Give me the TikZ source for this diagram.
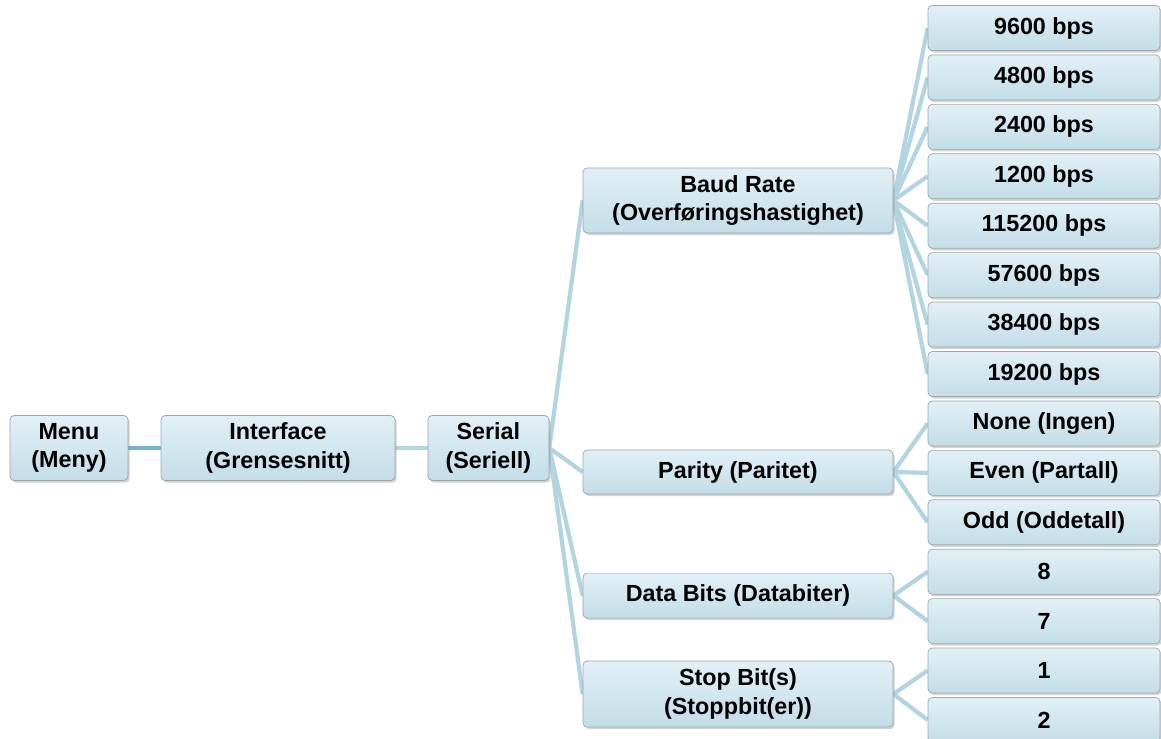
\documentclass[tikz,border=0pt]{standalone}
\usepackage{fontspec}
\setmainfont{Liberation Sans}
\usetikzlibrary{positioning,backgrounds,shadows}
\definecolor{cTop}{HTML}{E2F0F6}
\definecolor{cBot}{HTML}{C3DDE8}
\definecolor{cEdge}{HTML}{9AA7AD}
\definecolor{cLink}{HTML}{B3D5E1}
\definecolor{cLinkD}{HTML}{74B3CB}

\begin{document}
\begin{tikzpicture}[
  font=\bfseries\fontsize{16.6}{20}\selectfont,
  box/.style={rounded corners=3pt,draw=cEdge,line width=0.5pt,align=center,inner sep=2pt,
    top color=cTop,bottom color=cBot,
    drop shadow={shadow xshift=1.2pt,shadow yshift=-1.5pt,opacity=0.35}},
  top/.style={box,minimum height=16.25mm},
  mid/.style={box,minimum width=77.5mm},
  leaf/.style={box,minimum width=58mm,minimum height=11.25mm},
  link/.style={line width=3pt,cLink},
]
\useasboundingbox (0,0) rectangle (29.025,-18.475);

% ---------- LEFT CHAIN ----------
\node[top,minimum width=29.5mm] (menu) at (1.725,-11.2) {Menu\\(Meny)};
\node[top,minimum width=58.5mm] (iface) at (6.95,-11.2) {Interface\\(Grensesnitt)};
\node[top,minimum width=30.25mm] (serial) at (12.21,-11.2) {Serial\\(Seriell)};

% ---------- SETTINGS ----------
\node[mid,minimum height=16.25mm] (baud) at (18.45,-5.01) {Baud Rate\\(Overføringshastighet)};
\node[mid,minimum height=11mm] (parity) at (18.45,-11.8) {Parity (Paritet)};
\node[mid,minimum height=11.25mm] (bits) at (18.45,-14.89) {Data Bits (Databiter)};
\node[mid,minimum height=16.5mm] (stop) at (18.45,-17.35) {Stop Bit(s)\\(Stoppbit(er))};

% ---------- VALUES ----------
\foreach \lab [count=\i from 0] in {9600 bps,4800 bps,2400 bps,1200 bps,115200 bps,57600 bps,
    38400 bps,19200 bps,None (Ingen),Even (Partall),Odd (Oddetall),8,7,1,2}
  \node[leaf] (opt\i) at (26.1,{-0.7-1.2357*\i}) {\lab};

% ---------- LINKS ----------
\begin{scope}[on background layer]
  \draw[link,cLinkD] (menu) -- (iface);
  \draw[link] (iface) -- (serial);
  \foreach \m in {baud,parity,bits,stop}
    \draw[link] (serial.east) -- (\m.west);
  \foreach \i in {0,...,7}
    \draw[link] (baud.east) -- (opt\i.west);
  \foreach \i in {8,9,10}
    \draw[link] (parity.east) -- (opt\i.west);
  \foreach \i in {11,12}
    \draw[link] (bits.east) -- (opt\i.west);
  \foreach \i in {13,14}
    \draw[link] (stop.east) -- (opt\i.west);
\end{scope}

\end{tikzpicture}
\end{document}
